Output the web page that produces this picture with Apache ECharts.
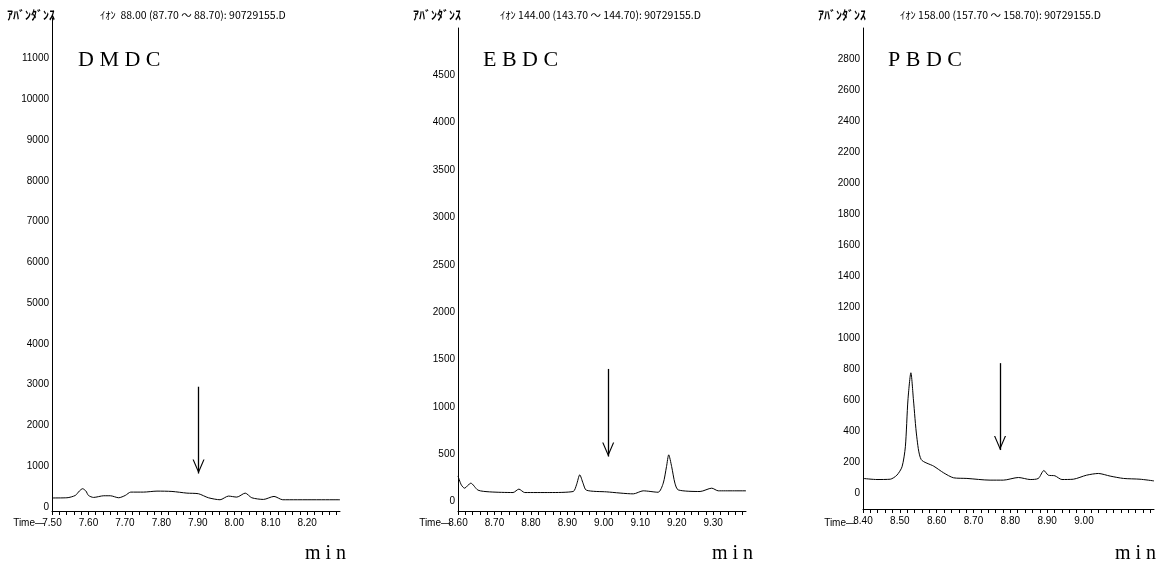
<!DOCTYPE html>
<html>
<head>
<meta charset="utf-8">
<script src="https://cdn.jsdelivr.net/npm/echarts@6/dist/echarts.min.js"></script>
<style>
html,body{margin:0;padding:0;background:#fff;}
#chart{width:1163px;height:569px;}
</style>
</head>
<body>
<div id="chart"></div>
<script>
// ---- data ----
const panelNames = ['D M D C', 'E B D C', 'P B D C'];
const ionLabels = [
  'ｲｵﾝ  88.00 (87.70 ～ 88.70): 90729155.D',
  'ｲｵﾝ 144.00 (143.70 ～ 144.70): 90729155.D',
  'ｲｵﾝ 158.00 (157.70 ～ 158.70): 90729155.D'
];
const xMin = [7.50, 8.60, 8.40];
const xMax = [8.29, 9.39, 9.19];
const xLastLabel = [8.20, 9.30, 9.00];
const yMax = [12000, 5000, 3000];
const yLastLabel = [11000, 4500, 2800];
const yLabelStep = [1000, 500, 200];

const dmdcTime  = [7.50, 7.541, 7.564, 7.575, 7.584, 7.593, 7.600, 7.614, 7.642, 7.660, 7.683, 7.701, 7.716, 7.751, 7.788, 7.829, 7.870, 7.902, 7.929, 7.961, 7.984, 8.007, 8.030, 8.048, 8.080, 8.109, 8.133, 8.29];
const dmdcAbund = [220, 225, 282, 390, 447, 390, 282, 233, 274, 274, 225, 282, 364, 364, 388, 380, 339, 323, 225, 176, 266, 241, 339, 225, 184, 258, 176, 176];

const ebdcTime  = [8.60, 8.609, 8.618, 8.635, 8.655, 8.687, 8.751, 8.767, 8.783, 8.852, 8.916, 8.925, 8.934, 8.943, 8.952, 9.008, 9.081, 9.108, 9.149, 9.163, 9.172, 9.178, 9.186, 9.195, 9.204, 9.264, 9.296, 9.314, 9.39];
const ebdcAbund = [270, 176, 141, 194, 120, 102, 95, 131, 95, 95, 106, 176, 282, 194, 120, 102, 81, 113, 98, 194, 370, 493, 370, 194, 123, 106, 141, 113, 113];

const pbdcTime  = [8.40, 8.438, 8.474, 8.492, 8.506, 8.515, 8.522, 8.530, 8.537, 8.546, 8.558, 8.592, 8.619, 8.646, 8.682, 8.745, 8.781, 8.822, 8.854, 8.876, 8.891, 8.903, 8.921, 8.940, 8.971, 9.007, 9.039, 9.071, 9.107, 9.152, 9.19];
const pbdcAbund = [97, 90, 92, 118, 172, 301, 602, 778, 602, 365, 219, 176, 133, 101, 97, 86, 86, 103, 90, 97, 148, 118, 114, 90, 92, 118, 129, 112, 97, 92, 81];

const arrowX   = [7.902, 9.012, 8.772];
const arrowTop = [2950, 1400, 840];
const arrowTip = [820, 475, 280];

// ---- layout ----
const times = [dmdcTime, ebdcTime, pbdcTime];
const abunds = [dmdcAbund, ebdcAbund, pbdcAbund];
const grids = [
  {left: 52,  top: 18, width: 288, bottom: 58},
  {left: 458, top: 28, width: 288, bottom: 58},
  {left: 863, top: 28, width: 291, bottom: 60}
];
const axisStartX = [52, 458, 863];
const nameX = [78, 483, 888];
const ionX = [100, 500, 900];
const minX = [305, 712, 1115];

const chevron = 'path://M0,10 L5,0 L10,10 L9,10 L5,2 L1,10 Z';
const numFont = 'Liberation Sans';

const xAxes = [], yAxes = [], series = [], graphics = [];
for (let i = 0; i < 3; i++) {
  const step = yLabelStep[i];
  const yLast = yLastLabel[i];
  const xLast = xLastLabel[i];
  xAxes.push({
    type: 'value', gridIndex: i, min: xMin[i], max: xMax[i], interval: 0.02,
    axisLine: {onZero: false, lineStyle: {color: '#000', width: 1}},
    axisTick: {show: true, length: 4, lineStyle: {color: '#000', width: 1}},
    splitLine: {show: false},
    axisLabel: {
      color: '#000', fontFamily: numFont, fontSize: 10, margin: 7,
      showMaxLabel: false,
      formatter: v => (Math.round(v * 100) % 10 === 0 && v <= xLast + 1e-6 ? v.toFixed(2) : '')
    }
  });
  yAxes.push({
    type: 'value', gridIndex: i, min: -100, max: yMax[i], interval: 100,
    axisLine: {show: true, onZero: false, lineStyle: {color: '#000', width: 1}},
    axisTick: {show: false},
    splitLine: {show: false},
    axisLabel: {
      color: '#000', fontFamily: numFont, fontSize: 10, margin: 3,
      showMaxLabel: false,
      formatter: v => (v >= 0 && v <= yLast && v % step === 0 ? String(v) : '')
    }
  });
  series.push({
    type: 'line', xAxisIndex: i, yAxisIndex: i,
    data: times[i].map((t, k) => [t, abunds[i][k]]),
    showSymbol: false, symbol: 'none', smooth: 0.25,
    lineStyle: {color: '#000', width: 1},
    silent: true,
    markLine: {
      silent: true, animation: false,
      symbol: ['none', chevron], symbolSize: [12, 14], symbolOffset: [0, [0, 7]],
      label: {show: false},
      lineStyle: {color: '#000', width: 1.3, type: 'solid'},
      data: [[{coord: [arrowX[i], arrowTop[i]]}, {coord: [arrowX[i], arrowTip[i]]}]]
    }
  });
  graphics.push(
    {type: 'text', x: axisStartX[i] + 3, y: 15, style: {text: 'ｱﾊﾞﾝﾀﾞﾝｽ', fill: '#000', font: 'bold 12px "Noto Sans CJK JP"', align: 'right', verticalAlign: 'middle'}},
    {type: 'text', x: ionX[i], y: 15, style: {text: ionLabels[i], fill: '#000', font: '10.5px "Noto Sans CJK JP"', align: 'left', verticalAlign: 'middle'}},
    {type: 'text', x: nameX[i], y: 60, style: {text: panelNames[i], fill: '#000', font: '22px "Liberation Serif"', align: 'left', verticalAlign: 'middle'}},
    {type: 'text', x: minX[i], y: 554, style: {text: 'm i n', fill: '#000', font: '20px "Liberation Serif"', align: 'left', verticalAlign: 'middle'}},
    {type: 'text', x: axisStartX[i] - 7, y: 523, style: {text: 'Time—', fill: '#000', font: '10px "Liberation Sans"', align: 'right', verticalAlign: 'middle'}}
  );
}

const chart = echarts.init(document.getElementById('chart'), null, {renderer: 'canvas'});
chart.setOption({
  backgroundColor: '#fff',
  animation: false,
  grid: grids,
  xAxis: xAxes,
  yAxis: yAxes,
  series: series,
  graphic: graphics
});
</script>
</body>
</html>
